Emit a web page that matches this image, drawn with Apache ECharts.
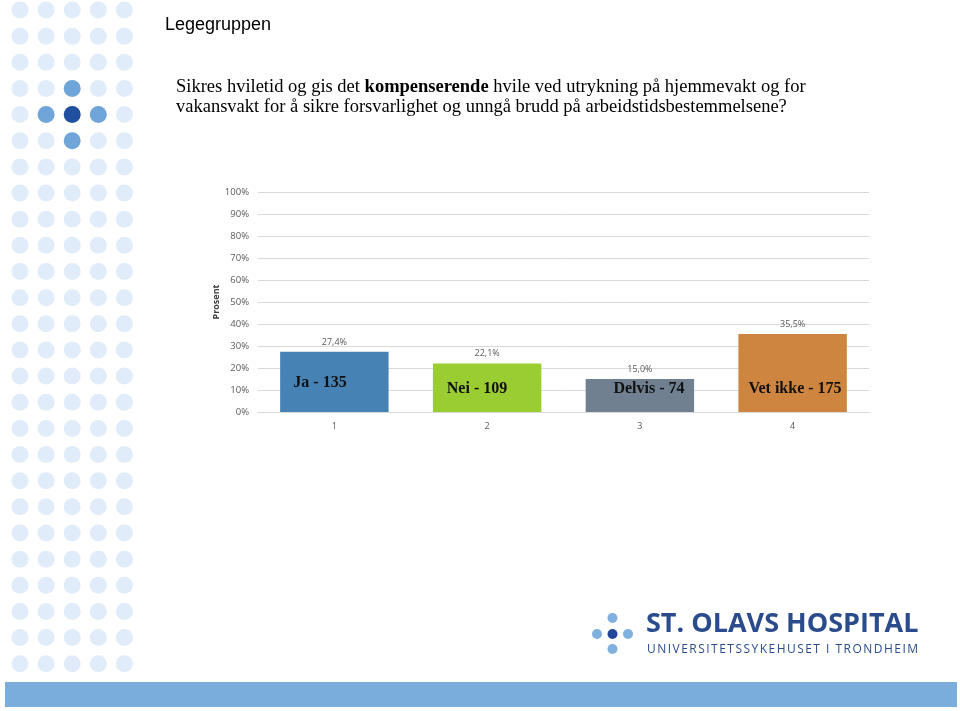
<!DOCTYPE html>
<html><head><meta charset="utf-8">
<script src="https://cdn.jsdelivr.net/npm/echarts@6/dist/echarts.min.js"></script>
<style>html,body{margin:0;padding:0;background:#fff}#c{width:960px;height:711px}</style>
</head><body><div id="c"></div>
<script>
var categories = ['1', '2', '3', '4'];
var percentValues = [27.4, 22.1, 15.0, 35.5];
var answers = ['Ja', 'Nei', 'Delvis', 'Vet ikke'];
var counts = [135, 109, 74, 175];
var barColors = ['#4682b4', '#9acd32', '#708090', '#cd853f'];
var yTicks = [0, 10, 20, 30, 40, 50, 60, 70, 80, 90, 100];

var chart = echarts.init(document.getElementById('c'), null, {renderer: 'canvas'});

var graphics = [];
// decorative dot grid
var special = {'2,3': '#6fa5d8', '1,4': '#6fa5d8', '3,4': '#6fa5d8', '2,4': '#1f4f9e', '2,5': '#6fa5d8'};
for (var r = 0; r < 26; r++) {
  for (var c = 0; c < 5; c++) {
    var col = special[c + ',' + r] || '#e0ecf9';
    graphics.push({type: 'circle', silent: true, shape: {cx: 20 + c * 26.1, cy: 10 + r * 26.15, r: 8.5}, style: {fill: col}});
  }
}
// bottom band
graphics.push({type: 'rect', silent: true, shape: {x: 5, y: 682, width: 952, height: 25}, style: {fill: '#7aaddb'}});
// headings
var serif = '"Liberation Serif", "Times New Roman", serif';
graphics.push({type: 'text', left: 165, top: 16, style: {text: 'Legegruppen', font: '18px "Liberation Sans", Arial, sans-serif', fill: '#000'}});
graphics.push({type: 'text', left: 176, top: 78, style: {
  text: '{n|Sikres hviletid og gis det }{b|kompenserende}{n| hvile ved utrykning på hjemmevakt og for}',
  rich: {n: {font: '18.5px ' + serif, fill: '#000'}, b: {font: 'bold 18.5px ' + serif, fill: '#000'}}
}});
graphics.push({type: 'text', left: 176, top: 98, style: {text: 'vakansvakt for å sikre forsvarlighet og unngå brudd på arbeidstidsbestemmelsene?', font: '18.5px ' + serif, fill: '#000'}});
// overlay answer labels
var ansPos = [[320, 383], [477, 389], [649, 389], [795, 389]];
for (var i = 0; i < answers.length; i++) {
  graphics.push({type: 'text', z: 100, x: ansPos[i][0], y: ansPos[i][1], style: {text: answers[i] + ' - ' + counts[i], font: 'bold 16px ' + serif, fill: '#111', align: 'center', verticalAlign: 'middle'}});
}
// logo
var logoDots = [[612.5, 618, '#7fb0de'], [597, 634, '#7fb0de'], [612.5, 634, '#24479a'], [628, 634, '#7fb0de'], [612.5, 649, '#7fb0de']];
logoDots.forEach(function (d) {
  graphics.push({type: 'circle', silent: true, shape: {cx: d[0], cy: d[1], r: 5}, style: {fill: d[2]}});
});
graphics.push({type: 'text', left: 646, top: 611, style: {text: 'ST. OLAVS HOSPITAL', font: 'bold 27px "Open Sans", "Liberation Sans", sans-serif', fill: '#2b4c8c'}});
// letter-spaced subtitle
(function () {
  var sub = 'UNIVERSITETSSYKEHUSET I TRONDHEIM';
  var font = '12px "Open Sans", "Liberation Sans", sans-serif';
  var ctx = document.createElement('canvas').getContext('2d');
  ctx.font = font;
  var total = 0, widths = [];
  for (var k = 0; k < sub.length; k++) { widths.push(ctx.measureText(sub[k]).width); total += widths[k]; }
  var gap = (271 - total) / (sub.length - 1);
  var x = 647;
  for (var k2 = 0; k2 < sub.length; k2++) {
    graphics.push({type: 'text', x: x, y: 650, style: {text: sub[k2], font: font, fill: '#2b4c8c', verticalAlign: 'middle'}});
    x += widths[k2] + gap;
  }
})();

chart.setOption({
  animation: false,
  grid: {left: 258, right: 91, top: 192, bottom: 299},
  xAxis: {
    type: 'category', data: categories,
    axisLine: {lineStyle: {color: '#d9d9d9'}}, axisTick: {show: false},
    axisLabel: {color: '#595959', fontSize: 9, margin: 10, fontFamily: '"Open Sans", sans-serif'}
  },
  yAxis: {
    type: 'value', min: 0, max: 100, interval: 10,
    name: 'Prosent', nameLocation: 'middle', nameGap: 37, nameRotate: 90, nameMoveOverlap: false,
    nameTextStyle: {fontWeight: 'bold', fontSize: 9, color: '#404040', fontFamily: '"Open Sans", sans-serif'},
    axisLine: {show: false}, axisTick: {show: false},
    axisLabel: {formatter: '{value}%', color: '#595959', fontSize: 9.5, margin: 9, fontFamily: '"Open Sans", sans-serif'},
    splitLine: {lineStyle: {color: '#d9d9d9'}}
  },
  series: [{
    type: 'bar', barWidth: '71%',
    data: percentValues.map(function (v, i) { return {value: v, itemStyle: {color: barColors[i]}}; }),
    label: {show: true, position: 'top', distance: 5, color: '#595959', fontSize: 9, fontFamily: '"Open Sans", sans-serif',
      formatter: function (p) { return p.value.toFixed(1).replace('.', ',') + '%'; }}
  }],
  graphic: graphics
});
</script></body></html>
